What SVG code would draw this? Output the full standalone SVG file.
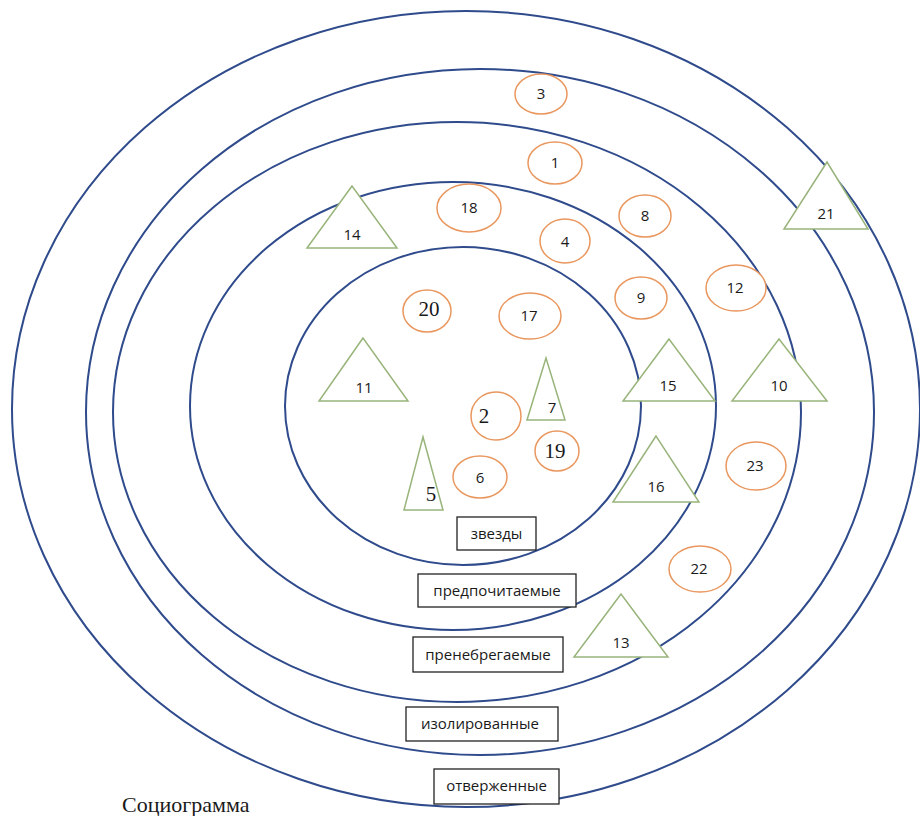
<svg xmlns="http://www.w3.org/2000/svg" width="920" height="816" viewBox="0 0 920 816">
<style>
.ring{fill:none;stroke:#2F4B8C;stroke-width:2}
.c{fill:#fff;stroke:#E9975E;stroke-width:1.5}
.t{fill:#fff;stroke:#98B47A;stroke-width:1.5}
.n{font-family:"Open Sans","Liberation Sans",sans-serif;font-size:15px;fill:#1a1a1a;text-anchor:middle}
.s{font-family:"Liberation Serif","Times New Roman",serif;font-size:21px;fill:#1a1a1a;text-anchor:middle}
.box{fill:#fff;stroke:#222;stroke-width:1.3}
.bl{font-family:"Open Sans","Liberation Sans",sans-serif;font-size:15px;fill:#1a1a1a;text-anchor:middle}
</style>
<rect width="920" height="816" fill="#fff"/>
<g id="rings">
<ellipse class="ring" cx="466" cy="409" rx="454" ry="398"/>
<ellipse class="ring" cx="480" cy="412" rx="394" ry="343"/>
<ellipse class="ring" cx="457" cy="412" rx="344" ry="290"/>
<ellipse class="ring" cx="453" cy="406" rx="263" ry="224"/>
<ellipse class="ring" cx="463" cy="406" rx="178" ry="159"/>
</g>
<g id="labels">
<g id="lbl-zvezdy"><rect class="box" x="457" y="517" width="79" height="33"/><text class="bl" x="496.5" y="539">звезды</text></g>
<g id="lbl-pred"><rect class="box" x="418" y="574" width="158" height="33"/><text class="bl" x="497" y="596">предпочитаемые</text></g>
<g id="lbl-preneb"><rect class="box" x="413" y="637" width="150" height="35"/><text class="bl" x="488" y="660">пренебрегаемые</text></g>
<g id="lbl-izol"><rect class="box" x="406" y="707" width="152" height="34"/><text class="bl" x="480" y="729">изолированные</text></g>
<g id="lbl-otv"><rect class="box" x="434" y="769" width="125" height="35"/><text class="bl" x="496.5" y="791">отверженные</text></g>
</g>
<g id="n3"><ellipse class="c" cx="541" cy="94" rx="26" ry="20"/><text class="n" x="541" y="99">3</text></g>
<g id="n1"><ellipse class="c" cx="555" cy="163" rx="27" ry="21"/><text class="n" x="555" y="168">1</text></g>
<g id="n18"><ellipse class="c" cx="469" cy="208" rx="32" ry="24"/><text class="n" x="469" y="213">18</text></g>
<g id="n4"><ellipse class="c" cx="565" cy="241" rx="25" ry="22"/><text class="n" x="565" y="247">4</text></g>
<g id="n8"><ellipse class="c" cx="645" cy="216" rx="26" ry="21"/><text class="n" x="645" y="221">8</text></g>
<g id="n9"><ellipse class="c" cx="641" cy="298" rx="26" ry="21"/><text class="n" x="641" y="303">9</text></g>
<g id="n12"><ellipse class="c" cx="736" cy="288" rx="30" ry="23"/><text class="n" x="735" y="293">12</text></g>
<g id="n20"><ellipse class="c" cx="427" cy="311" rx="24" ry="21"/><text class="s" x="429" y="316">20</text></g>
<g id="n17"><ellipse class="c" cx="530" cy="316" rx="31" ry="23"/><text class="n" x="529" y="321">17</text></g>
<g id="n2"><ellipse class="c" cx="496" cy="416" rx="25" ry="24"/><text class="s" x="484" y="423">2</text></g>
<g id="n19"><ellipse class="c" cx="557" cy="451" rx="22" ry="20"/><text class="s" x="555" y="458">19</text></g>
<g id="n6"><ellipse class="c" cx="480" cy="477" rx="27" ry="21"/><text class="n" x="480" y="483">6</text></g>
<g id="n23"><ellipse class="c" cx="756" cy="466" rx="30" ry="24"/><text class="n" x="755" y="471">23</text></g>
<g id="n22"><ellipse class="c" cx="700" cy="569" rx="31" ry="23"/><text class="n" x="699" y="574">22</text></g>
<g id="n14"><polygon class="t" points="352,186 307,248 397,248"/><text class="n" x="352" y="240">14</text></g>
<g id="n21"><polygon class="t" points="827,162 784,229 868,229"/><text class="n" x="826" y="219">21</text></g>
<g id="n15"><polygon class="t" points="669,339 623,401 715,401"/><text class="n" x="668" y="391">15</text></g>
<g id="n10"><polygon class="t" points="779,339 732,401 827,401"/><text class="n" x="779" y="391">10</text></g>
<g id="n11"><polygon class="t" points="363,338 319,401 408,401"/><text class="n" x="364" y="393">11</text></g>
<g id="n7"><polygon class="t" points="546,358 527,420 565,420"/><text class="n" x="552" y="413">7</text></g>
<g id="n5"><polygon class="t" points="423,437 404,510 443,510"/><text class="s" x="431" y="501">5</text></g>
<g id="n16"><polygon class="t" points="656,436 613,502 699,502"/><text class="n" x="656" y="492">16</text></g>
<g id="n13"><polygon class="t" points="621,594 574,657 668,657"/><text class="n" x="621" y="648">13</text></g>
<text x="122" y="812" style="font-family:'Liberation Serif','Times New Roman',serif;font-size:22px;fill:#1a1a1a">Социограмма</text>
</svg>
